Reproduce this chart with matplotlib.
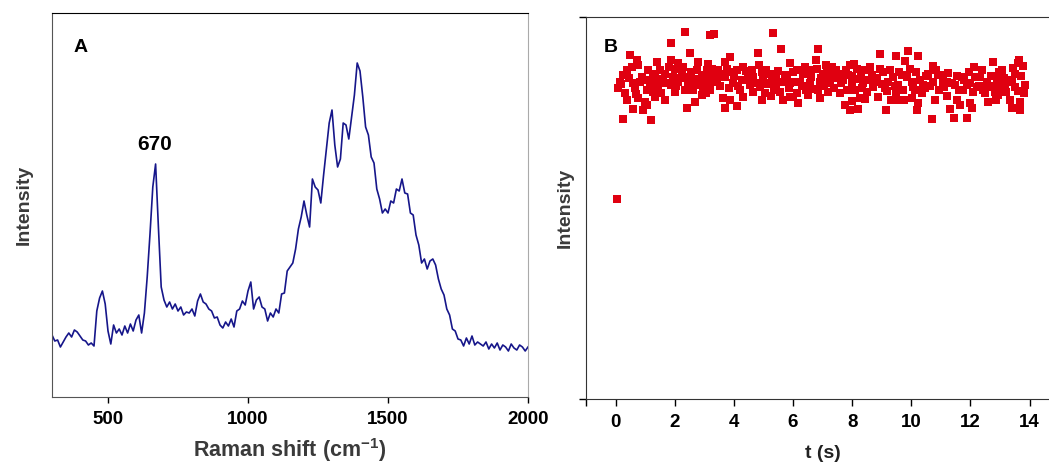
import numpy as np
import matplotlib
matplotlib.use("Agg")
import matplotlib.pyplot as plt

plt.rcParams['font.family'] = ['Liberation Sans', 'DejaVu Sans']

# panel A: Raman spectrum, sampled every 10 cm-1 from 300 to 2000
raman_shift = np.arange(300, 2001, 10)
raman_intensity = [
    62, 56, 57, 50, 55, 60, 64, 60, 67, 65,
    61, 57, 56, 52, 54, 51, 86, 99, 106, 93,
    66, 53, 72, 64, 68, 62, 71, 64, 73, 66,
    77, 82, 64, 84, 120, 163, 210, 233, 170, 110,
    97, 90, 95, 88, 93, 86, 90, 82, 85, 84,
    88, 81, 96, 103, 95, 93, 88, 86, 79, 80,
    72, 69, 75, 71, 78, 70, 86, 88, 96, 92,
    106, 115, 88, 97, 100, 90, 88, 76, 84, 80,
    88, 84, 103, 104, 126, 130, 134, 148, 168, 180,
    196, 182, 170, 218, 210, 207, 194, 222, 248, 274,
    287, 252, 230, 238, 274, 272, 258, 280, 302, 334,
    326, 300, 270, 262, 240, 234, 208, 198, 184, 188,
    184, 196, 194, 208, 206, 218, 204, 203, 184, 182,
    162, 152, 134, 138, 128, 136, 138, 132, 118, 108,
    102, 88, 82, 68, 66, 58, 57, 51, 59, 53,
    61, 52, 55, 53, 51, 55, 48, 53, 49, 54,
    47, 52, 50, 46, 53, 49, 47, 52, 50, 46,
    50,
]

# panel B: intensity vs time (square markers)
t_s = [
    2.34, 3.19, 1.87, 0.48, 0.71, 0.77, 1.39, 1.89, 2.51, 2.79,
    2.12, 0.37, 0.26, 0.15, 0.09, 0.60, 0.82, 0.99, 1.27, 1.50,
    1.67, 2.01, 2.23, 2.40, 2.68, 2.91, 3.08, 3.19, 2.96, 2.68,
    2.46, 2.12, 1.89, 1.50, 1.16, 0.65, 1.05, 1.27, 1.55, 2.01,
    0.77, 0.40, 0.99, 1.67, 1.05, 0.60, 0.93, 2.68, 2.40, 0.26,
    1.19, 2.91, 3.13, 3.19, 0.05,
    3.33, 5.33, 5.58, 4.80, 6.85, 6.77, 5.90, 4.86, 3.87, 3.70,
    3.25, 3.47, 3.92, 4.32, 4.49, 4.26, 4.66, 5.00, 5.22, 5.44,
    5.73, 6.12, 6.35, 6.57, 7.02, 7.14, 3.42, 3.70, 3.98, 4.54,
    4.88, 5.16, 5.44, 5.90, 6.23, 6.57, 6.91, 7.19, 4.20, 4.66,
    5.05, 5.56, 6.12, 6.52, 6.85, 3.19, 3.62, 3.87, 3.70, 4.09,
    5.67, 5.90, 6.18, 6.91,
    8.94, 9.47, 9.88, 10.24, 9.79, 9.95, 10.74, 7.31, 7.47, 7.93,
    8.15, 8.43, 8.94, 7.19, 7.59, 7.87, 8.21, 8.66, 9.39, 9.67,
    10.57, 10.91, 7.25, 7.64, 7.98, 8.38, 8.77, 9.22, 9.56, 10.01,
    10.41, 10.74, 11.08, 7.19, 7.59, 8.09, 8.49, 9.11, 9.50, 10.12,
    10.46, 7.76, 7.93, 8.21, 8.26, 8.88, 9.33, 9.50, 10.01, 10.24,
    10.18, 10.80, 9.13, 10.69,
    12.12, 12.77, 13.65, 13.79, 13.06, 11.08, 11.70, 12.32, 12.55, 12.89,
    13.28, 13.51, 13.84, 11.20, 11.48, 11.87, 12.21, 12.60, 13.17, 13.51,
    11.76, 12.10, 12.44, 12.83, 11.20, 11.53, 11.98, 12.60, 12.94, 13.34,
    13.68, 11.31, 11.65, 12.04, 13.39, 13.68, 11.44, 11.89,
    # dense core of the band
    0.20, 0.32, 0.45, 0.55, 0.88, 1.10, 1.22, 1.35, 1.45, 1.60,
    1.75, 1.80, 1.95, 2.06, 2.18, 2.28, 2.35, 2.55, 2.62, 2.74,
    2.84, 3.00, 3.05, 2.52, 1.33, 0.70, 3.12,
    3.38, 3.52, 3.58, 3.78, 3.82, 4.02, 4.12, 4.15, 4.38, 4.42,
    4.60, 4.72, 4.95, 5.08, 5.10, 5.28, 5.35, 5.50, 5.62, 5.80,
    5.85, 6.00, 6.05, 6.30, 6.40, 6.45, 6.62, 6.70, 6.80, 6.95,
    7.05, 7.10, 4.30, 5.25, 6.00, 4.95,
    7.35, 7.40, 7.52, 7.70, 7.80, 7.82, 8.00, 8.05, 8.30, 8.33,
    8.55, 8.60, 8.72, 8.85, 9.02, 9.05, 9.18, 9.28, 9.45, 9.60,
    9.72, 9.85, 10.05, 10.15, 10.30, 10.35, 10.50, 10.62, 10.85, 10.95,
    8.45, 9.75, 8.00,
    11.12, 11.25, 11.38, 11.55, 11.62, 11.80, 11.95, 12.00, 12.15, 12.28,
    12.40, 12.50, 12.68, 12.75, 12.95, 13.00, 13.12, 13.22, 13.40, 13.45,
    13.60, 13.72, 13.80, 13.62, 12.85,
]
intensity_b = [
    96.1, 95.3, 93.3, 90.0, 88.7, 87.4, 88.3, 88.7, 90.5, 88.3,
    87.9, 86.1, 84.8, 83.1, 81.3, 82.6, 83.1, 83.5, 85.2, 86.1,
    85.2, 86.5, 85.2, 84.4, 83.9, 84.8, 86.1, 83.1, 81.7, 82.2,
    82.6, 83.1, 82.2, 82.6, 83.1, 81.3, 80.9, 80.4, 80.0, 80.4,
    78.7, 78.4, 77.8, 78.4, 76.9, 75.8, 75.6, 77.8, 76.1, 73.2,
    73.0, 79.6, 80.9, 84.4, 52.4,
    95.5, 95.9, 91.7, 90.7, 91.7, 88.7, 88.0, 87.4, 89.4, 88.3,
    86.5, 86.1, 85.7, 87.0, 85.2, 83.5, 84.4, 83.9, 85.2, 84.4,
    84.8, 86.1, 85.2, 86.1, 85.2, 86.5, 83.1, 84.4, 82.6, 82.2,
    81.7, 82.6, 82.2, 82.6, 83.1, 82.6, 83.1, 82.6, 80.9, 80.4,
    80.0, 80.4, 80.0, 79.6, 80.9, 80.9, 78.7, 78.3, 76.1, 76.7,
    78.3, 79.1, 77.4, 78.7,
    90.3, 89.9, 91.1, 89.8, 88.6, 86.5, 87.2, 87.0, 86.1, 87.4,
    86.5, 86.1, 86.5, 84.8, 84.4, 84.8, 83.9, 84.8, 84.4, 84.8,
    85.2, 84.8, 83.1, 82.6, 83.1, 82.6, 83.1, 83.1, 82.2, 83.1,
    82.2, 83.1, 82.6, 80.4, 80.0, 80.9, 80.4, 81.3, 80.4, 80.9,
    81.3, 76.9, 75.6, 75.8, 78.7, 79.1, 78.3, 78.3, 78.7, 77.4,
    75.6, 78.3, 75.6, 73.2,
    87.0, 88.3, 88.7, 87.2, 86.1, 84.8, 84.4, 84.4, 83.1, 83.9,
    83.5, 85.2, 82.2, 83.1, 82.2, 82.2, 81.7, 81.7, 82.2, 81.7,
    80.9, 80.4, 80.9, 80.4, 79.3, 78.3, 77.4, 77.8, 79.6, 78.3,
    77.8, 75.8, 76.9, 76.3, 76.3, 75.6, 73.5, 73.5,
    # dense core of the band
    82.5, 80.2, 84.0, 86.8, 84.2, 86.0, 82.0, 84.0, 81.5, 83.8,
    82.8, 86.8, 84.2, 82.0, 84.0, 86.8, 81.0, 85.5, 80.8, 86.0,
    83.0, 83.5, 80.0, 83.4, 79.0, 79.8, 87.8,
    84.5, 82.0, 85.0, 86.5, 81.5, 84.6, 86.2, 82.0, 83.6, 85.8,
    86.0, 82.8, 85.6, 82.4, 86.2, 83.6, 81.0, 85.8, 83.0, 84.0,
    81.5, 85.5, 83.0, 82.0, 86.8, 80.8, 84.2, 81.2, 86.3, 84.0,
    82.0, 87.4, 79.0, 79.4, 79.0, 78.2,
    84.0, 81.5, 85.2, 83.6, 86.0, 81.0, 84.6, 87.6, 84.5, 81.5,
    83.6, 87.0, 81.6, 84.0, 82.4, 85.6, 80.5, 86.0, 82.0, 85.6,
    80.8, 84.2, 81.8, 85.6, 83.6, 80.0, 84.6, 82.0, 86.2, 81.0,
    78.6, 78.2, 78.0,
    81.6, 85.4, 82.6, 84.6, 81.0, 83.6, 85.6, 82.8, 84.4, 82.0,
    86.0, 80.0, 84.6, 82.0, 85.6, 81.6, 84.0, 80.4, 83.0, 86.6,
    80.6, 84.6, 80.0, 88.0, 78.2,
]

label_col = '#3a3a3a'

fig = plt.figure(figsize=(10.49, 4.68), dpi=100)

# ---- panel A ----
ax1 = fig.add_axes([52 / 1049, 1 - 397 / 468, 476 / 1049, 384 / 468])
ax1.plot(raman_shift, raman_intensity, color='#16168a', lw=1.2)
ax1.set_xlim(300, 2000)
ax1.set_ylim(0, 384)
ax1.set_xticks([500, 1000, 1500, 2000])
ax1.set_yticks([])
ax1.tick_params(axis='x', direction='out', length=4, width=1, labelsize=13.5, pad=6)
for lab in ax1.get_xticklabels():
    lab.set_fontweight('bold')
ax1.spines['top'].set_color('black')
ax1.spines['left'].set_color('#555555')
ax1.spines['bottom'].set_color('#555555')
ax1.spines['right'].set_color('#aaaaaa')
ax1.set_xlabel('Raman shift (cm$^{\\mathregular{-1}}$)', fontsize=15.5, fontweight='bold',
               color=label_col, labelpad=6)
ax1.set_ylabel('Intensity', fontsize=14, fontweight='bold', color=label_col, labelpad=14)
ax1.text(0.06, 0.909, 'A', transform=ax1.transAxes, ha='center', va='center',
         fontsize=14, fontweight='bold')
ax1.text(665, 252, '670', ha='center', va='center', fontsize=15, fontweight='bold')

# ---- panel B ----
ax2 = fig.add_axes([586 / 1049, 1 - 399 / 468, 16 * 29.57 / 1049, 382 / 468])
ax2.scatter(t_s, intensity_b, marker='s', s=30, color='#e00010', linewidths=0)
ax2.set_xlim(-1, 15)
ax2.set_ylim(0, 100)
ax2.set_xticks([-1, 0, 2, 4, 6, 8, 10, 12, 14])
ax2.set_xticklabels(['', '0', '2', '4', '6', '8', '10', '12', '14'])
ax2.set_yticks([0, 100])
ax2.set_yticklabels([])
ax2.tick_params(axis='both', direction='out', length=5, width=1, labelsize=13.5, pad=6)
for lab in ax2.get_xticklabels():
    lab.set_fontweight('bold')
for sp in ax2.spines.values():
    sp.set_color('#333333')
ax2.set_xlabel('t (s)', fontsize=14, fontweight='bold', color='#222222', labelpad=10)
ax2.set_ylabel('Intensity', fontsize=14, fontweight='bold', color=label_col, labelpad=-2)
ax2.text(-0.17, 91.9, 'B', ha='center', va='center', fontsize=14, fontweight='bold')

fig.savefig('out.png', dpi=100)
